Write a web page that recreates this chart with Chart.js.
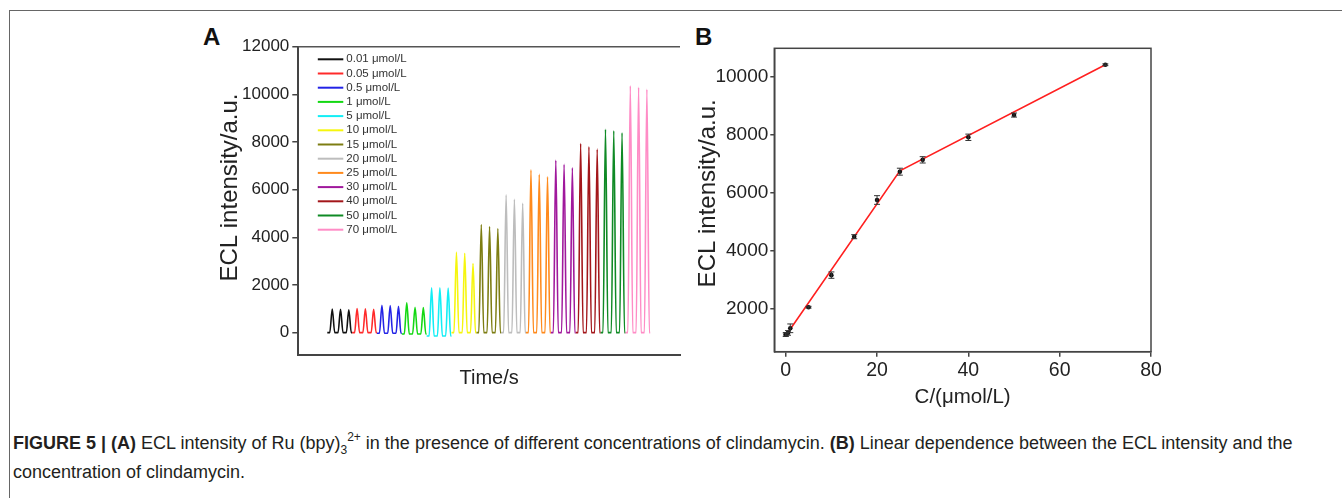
<!DOCTYPE html>
<html lang="en">
<head>
<meta charset="UTF-8">
<title>Figure 5 - ECL intensity and clindamycin</title>
<script src="https://cdn.jsdelivr.net/npm/chart.js"></script>
<style>
  body {
    margin: 0;
    background: #fff;
    width: 1342px;
    height: 498px;
    overflow: hidden;
    position: relative;
    font-family: "Liberation Sans", Arial, sans-serif;
  }
  .frame {
    position: absolute;
    left: 9px; top: 10px; right: 0; bottom: 0;
    border-top: 1px solid #666;
    border-left: 1px solid #666;
  }
  .panel { position: absolute; }
  .tag { position: absolute; font-weight: bold; font-size: 24px; color: #111; }
  .caption {
    position: absolute;
    left: 13px; top: 430px;
    font-size: 18px;
    line-height: 27px;
    color: #231f20;
    white-space: nowrap;
  }
  .ss { position: relative; font-size: 12px; }
</style>
</head>
<body>
<div class="frame"></div>
<div class="tag" style="left:203px; top:23px;">A</div>
<div class="tag" style="left:695px; top:23px;">B</div>

<canvas id="chartA" class="panel" width="500" height="390" style="left:190px; top:20px;"></canvas>
<canvas id="chartB" class="panel" width="490" height="390" style="left:690px; top:20px;"></canvas>

<div class="caption">
  <b>FIGURE 5 | (A)</b> ECL intensity of Ru (bpy)<span class="ss" style="top:5px;">3</span><span class="ss" style="top:-8px;">2+</span> in the presence of different concentrations of clindamycin. <b>(B)</b> Linear dependence between the ECL intensity and the<br>
  concentration of clindamycin.
</div>

<script>
    // ---- panel A: ECL transients, three peaks per concentration ----
    const concLabels = ['0.01 μmol/L', '0.05 μmol/L', '0.5 μmol/L', '1 μmol/L', '5 μmol/L',
                        '10 μmol/L', '15 μmol/L', '20 μmol/L', '25 μmol/L', '30 μmol/L',
                        '40 μmol/L', '50 μmol/L', '70 μmol/L'];
    const concColors = ['#111111', '#ff2a2a', '#2323e6', '#13d813', '#12eef5',
                        '#f6f60e', '#7d7d12', '#bdbdbd', '#ff8a1c', '#a0189c',
                        '#a3161a', '#0f8a25', '#ff8cc6'];
    const peakTimes = [[41, 51, 61], [71, 81, 91], [101, 111, 121], [131, 141, 151],
                       [161, 171, 181], [191, 201, 211], [221, 231, 241], [251, 261, 271],
                       [281, 291, 301], [311, 321, 331], [341, 351, 361], [371, 381, 391],
                       [401, 411, 421]];
    const peakHeights = [[990, 980, 960], [1010, 1000, 980], [1150, 1140, 1100],
                         [1250, 1060, 1050], [1880, 1880, 1870], [3380, 3330, 2900],
                         [4540, 4450, 4370], [5780, 5600, 5430], [6830, 6640, 6540],
                         [7230, 7060, 6920], [7940, 7800, 7700], [8530, 8470, 8390],
                         [10360, 10300, 10210]];
    const baseLevels = [0, 0, -30, -60, -140, 0, 0, 0, 0, 0, 0, 0, 0];
    const peakHalfWidth = 3;   // seconds from baseline to top of a peak
    const aTicks = [0, 2000, 4000, 6000, 8000, 10000, 12000];

    // ---- panel B: calibration points with error bars and fitted line ----
    const bConc = [0.01, 0.05, 0.5, 1, 5, 10, 15, 20, 25, 30, 40, 50, 70];
    const bECL = [1090, 1100, 1150, 1310, 2040, 3150, 4480, 5750, 6730, 7140, 7920, 8690, 10430];
    const bErr = [60, 60, 80, 150, 30, 110, 70, 150, 120, 110, 110, 70, 30];
    const fitConc = [0, 25, 70];
    const fitECL = [1050, 6760, 10430];
    const bXTicks = [0, 20, 40, 60, 80];
    const bYTicks = [2000, 4000, 6000, 8000, 10000];

    Chart.defaults.font.family = '"Liberation Sans", Arial, sans-serif';
    Chart.defaults.color = '#222';

    function peakSeries(g) {
        const t = peakTimes[g], h = peakHeights[g], b = baseLevels[g];
        const pts = [{x: t[0] - 2 * peakHalfWidth, y: b}];
        t.forEach((tt, i) => {
            pts.push({x: tt - peakHalfWidth, y: b});
            pts.push({x: tt, y: h[i]});
            pts.push({x: tt + peakHalfWidth, y: b});
        });
        pts.push({x: t[t.length - 1] + peakHalfWidth + 1, y: b});
        return pts;
    }

    // legend lines inside the plot, top left
    const lineLegend = {
        id: 'lineLegend',
        afterDraw(chart) {
            const ctx = chart.ctx, area = chart.chartArea;
            ctx.save();
            ctx.font = '11.5px "Liberation Sans", Arial, sans-serif';
            ctx.textBaseline = 'middle';
            chart.data.datasets.forEach((ds, i) => {
                const y = area.top + 12.6 + i * 14.2;
                ctx.strokeStyle = ds.borderColor;
                ctx.lineWidth = 2;
                ctx.beginPath();
                ctx.moveTo(area.left + 19.5, y);
                ctx.lineTo(area.left + 45, y);
                ctx.stroke();
                ctx.fillStyle = '#333';
                ctx.fillText(ds.label, area.left + 48, y);
            });
            ctx.restore();
        }
    };

    const topLine = {
        id: 'topLine',
        afterDraw(chart) {
            const ctx = chart.ctx, area = chart.chartArea;
            ctx.save();
            ctx.strokeStyle = '#555';
            ctx.lineWidth = 1.5;
            ctx.beginPath();
            ctx.moveTo(area.left, area.top);
            ctx.lineTo(area.right, area.top);
            ctx.stroke();
            ctx.restore();
        }
    };

    const plainNum = v => String(v);
    const nb = n => '\u00a0'.repeat(n);   // leading blanks nudge the rotated titles upward

    new Chart(document.getElementById('chartA'), {
        type: 'line',
        data: {
            datasets: concLabels.map((lab, g) => ({
                label: lab,
                data: peakSeries(g),
                borderColor: concColors[g],
                backgroundColor: concColors[g],
                borderWidth: 1.6,
                pointRadius: 0,
                cubicInterpolationMode: 'monotone',
                fill: false
            }))
        },
        options: {
            responsive: false,
            devicePixelRatio: 1,
            animation: false,
            layout: { padding: { left: 0, top: 26.7, right: 10, bottom: 0 } },
            plugins: { legend: { display: false }, tooltip: { enabled: false } },
            scales: {
                x: {
                    type: 'linear',
                    min: 0,
                    max: 461,
                    ticks: { display: false },
                    grid: { display: false },
                    border: { color: '#444', width: 2 },
                    title: { display: true, text: 'Time/s', font: { size: 20 }, color: '#222',
                             padding: { top: 0, bottom: 19.5 } },
                    afterFit: s => { s.height = 55; }
                },
                y: {
                    min: -940,
                    max: 12000,
                    afterBuildTicks: s => { s.ticks = aTicks.map(v => ({ value: v })); },
                    ticks: { font: { size: 17 }, color: '#222', padding: 3, callback: plainNum },
                    grid: { drawOnChartArea: false, drawTicks: true, tickLength: 6, color: '#444', lineWidth: 1.5 },
                    border: { color: '#444', width: 2 },
                    title: { display: true, text: nb(4) + 'ECL intensity/a.u.', font: { size: 24 }, color: '#222',
                             padding: { top: 25.6, bottom: 0 } },
                    afterFit: s => { s.width = 108.3; }
                }
            }
        },
        plugins: [lineLegend, topLine]
    });

    // ---- panel B ----
    const boxFrame = {
        id: 'boxFrame',
        afterDraw(chart) {
            const ctx = chart.ctx, a = chart.chartArea;
            ctx.save();
            ctx.strokeStyle = '#444';
            ctx.lineWidth = 1.5;
            ctx.strokeRect(a.left, a.top, a.right - a.left, a.bottom - a.top);
            ctx.restore();
        }
    };

    const errorBars = {
        id: 'errorBars',
        afterDatasetsDraw(chart) {
            const ctx = chart.ctx, xs = chart.scales.x, ys = chart.scales.y;
            ctx.save();
            ctx.strokeStyle = '#333';
            ctx.lineWidth = 1;
            chart.data.datasets.forEach(ds => {
                if (!ds.errors) return;
                ds.data.forEach((p, i) => {
                    const px = xs.getPixelForValue(p.x);
                    const top = ys.getPixelForValue(p.y + ds.errors[i]);
                    const bot = ys.getPixelForValue(p.y - ds.errors[i]);
                    ctx.beginPath();
                    ctx.moveTo(px, top); ctx.lineTo(px, bot);
                    ctx.moveTo(px - 3, top); ctx.lineTo(px + 3, top);
                    ctx.moveTo(px - 3, bot); ctx.lineTo(px + 3, bot);
                    ctx.stroke();
                });
            });
            ctx.restore();
        }
    };

    new Chart(document.getElementById('chartB'), {
        type: 'line',
        data: {
            datasets: [
                {
                    label: 'ECL intensity',
                    data: bConc.map((c, i) => ({ x: c, y: bECL[i] })),
                    errors: bErr,
                    showLine: false,
                    pointRadius: 2.3,
                    pointBackgroundColor: '#111',
                    pointBorderColor: '#111',
                    pointBorderWidth: 0
                },
                {
                    label: 'Linear fit',
                    data: fitConc.map((c, i) => ({ x: c, y: fitECL[i] })),
                    borderColor: '#ff2020',
                    borderWidth: 1.6,
                    pointRadius: 0,
                    fill: false
                }
            ]
        },
        options: {
            responsive: false,
            devicePixelRatio: 1,
            animation: false,
            layout: { padding: { left: 0, top: 28.3, right: 29, bottom: 0 } },
            plugins: { legend: { display: false }, tooltip: { enabled: false } },
            scales: {
                x: {
                    type: 'linear',
                    min: -2.5,
                    max: 80,
                    afterBuildTicks: s => { s.ticks = bXTicks.map(v => ({ value: v })); },
                    ticks: { font: { size: 19.5 }, color: '#222', padding: 2, maxRotation: 0, callback: plainNum },
                    grid: { drawOnChartArea: false, drawTicks: true, tickLength: 5, color: '#444', lineWidth: 1.5 },
                    border: { color: '#444', width: 1.5 },
                    title: { display: true, text: 'C/(μmol/L)', font: { size: 20.5 }, color: '#222',
                             padding: { top: 0, bottom: 0 } },
                    afterFit: s => { s.height = 58.3; }
                },
                y: {
                    min: 500,
                    max: 11000,
                    afterBuildTicks: s => { s.ticks = bYTicks.map(v => ({ value: v })); },
                    ticks: { font: { size: 19 }, color: '#222', padding: 2, callback: plainNum },
                    grid: { drawOnChartArea: false, drawTicks: true, tickLength: 4, color: '#444', lineWidth: 1.5 },
                    border: { color: '#444', width: 1.5 },
                    title: { display: true, text: nb(2) + 'ECL intensity/a.u.', font: { size: 24 }, color: '#222',
                             padding: { top: 3.6, bottom: 0 } },
                    afterFit: s => { s.width = 84.3; }
                }
            }
        },
        plugins: [errorBars, boxFrame]
    });
</script>
</body>
</html>
